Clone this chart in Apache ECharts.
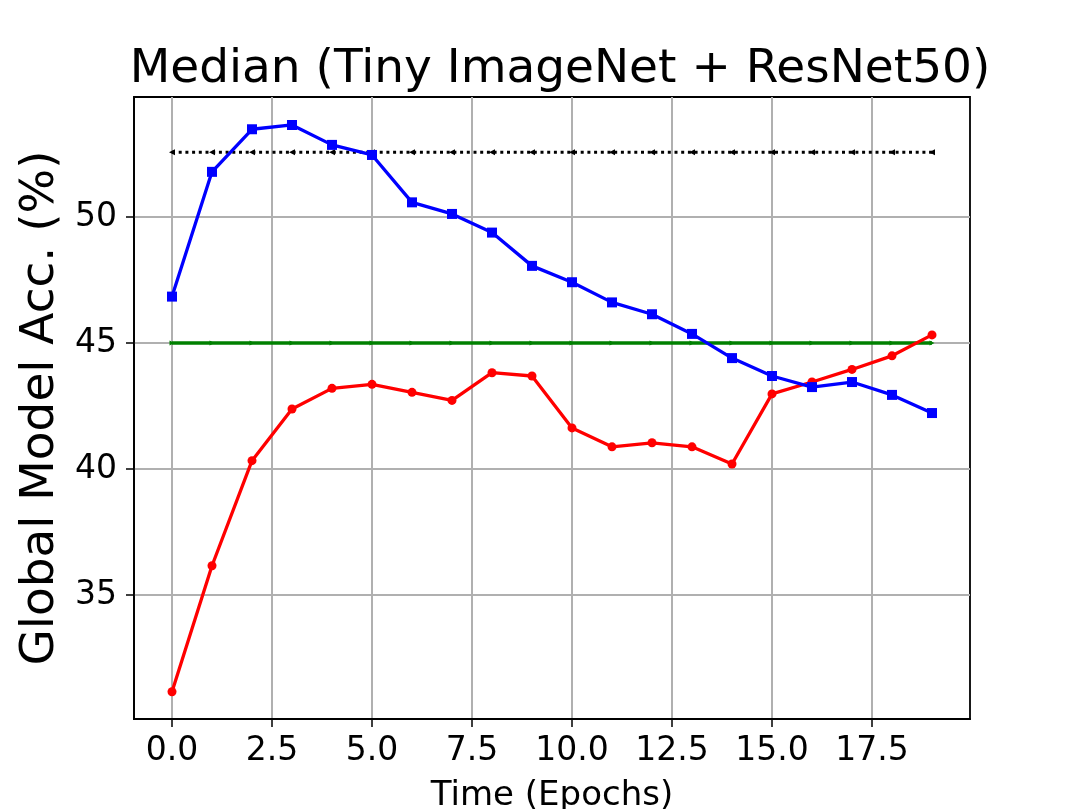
<!DOCTYPE html>
<html>
<head>
<meta charset="utf-8">
<title>Median (Tiny ImageNet + ResNet50)</title>
<script src="https://cdn.jsdelivr.net/npm/echarts@6/dist/echarts.min.js"></script>
<style>
  html, body { margin: 0; padding: 0; background: #fff; }
  #chart { width: 1079px; height: 809px; }
</style>
</head>
<body>
<div id="chart"></div>
<script>
// values
const epochs = [0, 1, 2, 3, 4, 5, 6, 7, 8, 9, 10, 11, 12, 13, 14, 15, 16, 17, 18, 19];
const blueAcc = [46.84, 51.79, 53.48, 53.65, 52.86, 52.46, 50.58, 50.12, 49.38, 48.06,
                 47.41, 46.61, 46.14, 45.36, 44.40, 43.69, 43.25, 43.45, 42.94, 42.22];
const redAcc = [31.16, 36.16, 40.33, 42.38, 43.20, 43.36, 43.04, 42.72, 43.82, 43.69,
                41.63, 40.88, 41.04, 40.88, 40.20, 42.98, 43.45, 43.95, 44.49, 45.32];
const greenAcc = [45.0, 45.0, 45.0, 45.0, 45.0, 45.0, 45.0, 45.0, 45.0, 45.0,
                  45.0, 45.0, 45.0, 45.0, 45.0, 45.0, 45.0, 45.0, 45.0, 45.0];
const blackAcc = [52.57, 52.57, 52.57, 52.57, 52.57, 52.57, 52.57, 52.57, 52.57, 52.57,
                  52.57, 52.57, 52.57, 52.57, 52.57, 52.57, 52.57, 52.57, 52.57, 52.57];
const xTicks = [0, 2.5, 5, 7.5, 10, 12.5, 15, 17.5];
const yTicks = [35, 40, 45, 50];

const FONT = 'DejaVu Sans';
const pairs = vals => epochs.map((e, i) => [e, vals[i]]);

const chart = echarts.init(document.getElementById('chart'), null, { renderer: 'canvas' });

const option = {
  animation: false,
  backgroundColor: '#fff',
  title: {
    text: 'Median (Tiny ImageNet + ResNet50)',
    left: 555,
    top: 41,
    textAlign: 'center',
    textStyle: { fontFamily: FONT, fontSize: 47, fontWeight: 'normal', color: '#000' }
  },
  grid: {
    left: 134, right: 109, top: 97, bottom: 90,
    outerBoundsMode: 'none',
    show: true, borderColor: '#000', borderWidth: 1.8, backgroundColor: 'transparent'
  },
  xAxis: {
    type: 'value',
    min: -0.95,
    max: 19.95,
    name: 'Time (Epochs)',
    nameLocation: 'middle',
    nameGap: 60,
    nameTextStyle: { fontFamily: FONT, fontSize: 34, color: '#000' },
    axisLine: { show: true, onZero: false, lineStyle: { color: '#000', width: 1.8 } },
    axisTick: { show: true, customValues: xTicks, length: 8, lineStyle: { color: '#000', width: 1.5 } },
    axisLabel: {
      customValues: xTicks,
      margin: 16,
      fontFamily: FONT, fontSize: 33, color: '#000',
      formatter: v => v.toFixed(1)
    },
    splitLine: { show: true, lineStyle: { color: '#b0b0b0', width: 2 } }
  },
  yAxis: {
    type: 'value',
    min: 30.08,
    max: 54.76,
    name: 'Global Model Acc. (%)',
    nameLocation: 'middle',
    nameGap: 70,
    nameTextStyle: { fontFamily: FONT, fontSize: 47, color: '#000' },
    axisLine: { show: true, onZero: false, lineStyle: { color: '#000', width: 1.8 } },
    axisTick: { show: true, customValues: yTicks, length: 8, lineStyle: { color: '#000', width: 1.5 } },
    axisLabel: {
      customValues: yTicks,
      margin: 17,
      fontFamily: FONT, fontSize: 33, color: '#000'
    },
    splitLine: { show: true, lineStyle: { color: '#b0b0b0', width: 2 } }
  },
  series: [
    {
      name: 'black',
      type: 'line',
      data: pairs(blackAcc),
      symbol: 'triangle',
      symbolRotate: 90,
      symbolSize: 6,
      itemStyle: { color: '#000' },
      lineStyle: { color: '#000', width: 3, type: [3, 3.7], cap: 'butt' },
      z: 3
    },
    {
      name: 'green',
      type: 'line',
      data: pairs(greenAcc),
      symbol: 'triangle',
      symbolRotate: -90,
      symbolSize: 5,
      itemStyle: { color: '#008000' },
      lineStyle: { color: '#008000', width: 3.5 },
      z: 3
    },
    {
      name: 'red',
      type: 'line',
      data: pairs(redAcc),
      symbol: 'circle',
      symbolSize: 9,
      itemStyle: { color: '#ff0000' },
      lineStyle: { color: '#ff0000', width: 3.3 },
      z: 4
    },
    {
      name: 'blue',
      type: 'line',
      data: pairs(blueAcc),
      symbol: 'rect',
      symbolSize: 10,
      itemStyle: { color: '#0000ff' },
      lineStyle: { color: '#0000ff', width: 3.3 },
      z: 5
    }
  ]
};

chart.setOption(option);
</script>
</body>
</html>
